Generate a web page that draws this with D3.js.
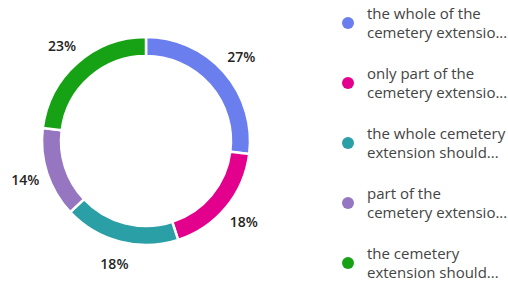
<!DOCTYPE html>
<html>
<head>
<meta charset="utf-8">
<script src="https://cdn.jsdelivr.net/npm/d3@7"></script>
<style>
  body { margin: 0; background: #fff; }
  svg { display: block; }
  .lbl { font-family: "Open Sans", "Noto Sans", sans-serif; font-weight: 600; font-size: 14px; fill: #252423; }
  .leg { font-family: "Open Sans", "Noto Sans", sans-serif; font-size: 15px; fill: #444; }
</style>
</head>
<body>
<div id="chart"></div>
<script>
var width = 508,
    height = 284;

// data
var categories = ["the whole of the cemetery extensio...",
                  "only part of the cemetery extensio...",
                  "the whole cemetery extension should...",
                  "part of the cemetery extensio...",
                  "the cemetery extension should..."];
var legendLines = [["the whole of the", "cemetery extensio..."],
                   ["only part of the", "cemetery extensio..."],
                   ["the whole cemetery", "extension should..."],
                   ["part of the", "cemetery extensio..."],
                   ["the cemetery", "extension should..."]];
var values = [27, 18, 18, 14, 23];
var colors = ["#6b7eee", "#e3008c", "#2a9fa5", "#9676c0", "#17a216"];

var cx = 146, cy = 141,
    outerR = 104, innerR = 85, labelR = 127;

var svg = d3.select("#chart").append("svg")
    .attr("width", width)
    .attr("height", height);

var color = d3.scaleOrdinal().domain(categories).range(colors);

var pie = d3.pie()
    .sort(null)
    .value(function(d) { return d.value; });

var data = categories.map(function(c, i) { return {name: c, value: values[i]}; });
var arcs = pie(data);

var arc = d3.arc().innerRadius(innerR).outerRadius(outerR);
var labelArc = d3.arc().innerRadius(labelR).outerRadius(labelR);

var g = svg.append("g")
    .attr("transform", "translate(" + cx + "," + cy + ")");

g.selectAll("path")
    .data(arcs)
  .enter().append("path")
    .attr("d", arc)
    .attr("fill", function(d) { return color(d.data.name); })
    .attr("stroke", "#fff")
    .attr("stroke-width", 2.5);

var total = d3.sum(values);

g.selectAll(".lbl")
    .data(arcs)
  .enter().append("text")
    .attr("class", "lbl")
    .attr("transform", function(d) { return "translate(" + labelArc.centroid(d) + ")"; })
    .attr("dy", "0.35em")
    .attr("text-anchor", "middle")
    .text(function(d) { return Math.round(d.value / total * 100) + "%"; });

// legend
var legend = svg.append("g")
    .attr("transform", "translate(348,23)");

var item = legend.selectAll(".item")
    .data(categories)
  .enter().append("g")
    .attr("class", "item")
    .attr("transform", function(d, i) { return "translate(0," + i * 60 + ")"; });

item.append("circle")
    .attr("r", 6)
    .attr("fill", function(d) { return color(d); });

item.append("text")
    .attr("class", "leg")
    .selectAll("tspan")
    .data(function(d, i) { return legendLines[i]; })
  .enter().append("tspan")
    .attr("x", 19)
    .attr("y", function(d, j) { return j === 0 ? -9.5 : 9.5; })
    .attr("dy", "0.35em")
    .text(function(d) { return d; });
</script>
</body>
</html>
